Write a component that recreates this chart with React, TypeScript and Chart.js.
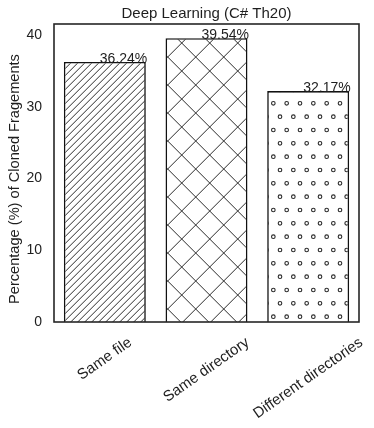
import React, { useEffect, useRef } from "react";
import { Chart, registerables } from "chart.js";

Chart.register(...registerables);

const categories = ["Same file", "Same directory", "Different directories"];
const values = [36.24, 39.54, 32.17];
const valueLabels = ["36.24%", "39.54%", "32.17%"];
const yTicks = [0, 10, 20, 30, 40];
const yMax = 41.52;
const chartTitle = "Deep Learning (C# Th20)";
const yAxisTitle = "Percentage (%) of Cloned Fragements";
const hatches = ["diag", "cross", "dots"];

const FONT = '"Liberation Sans", Arial, Helvetica, sans-serif';
const TEXT = "#1e1e1e";
const HATCH = "#2a2a2a";

function makePattern(kind: string): CanvasPattern | string {
  const c = document.createElement("canvas");
  const ctx = c.getContext("2d")!;
  if (kind === "diag" || kind === "cross") {
    const S = 28;
    c.width = S;
    c.height = S;
    ctx.fillStyle = "#ffffff";
    ctx.fillRect(0, 0, S, S);
    ctx.strokeStyle = HATCH;
    ctx.lineWidth = 1;
    if (kind === "diag") {
      for (let k = -3; k <= 12; k++) {
        const cc = 0.7 + 7 * k;
        ctx.beginPath();
        ctx.moveTo(cc + 10, -10);
        ctx.lineTo(cc - S - 10, S + 10);
        ctx.stroke();
      }
    } else {
      for (let k = -2; k <= 3; k++) {
        const cc = 0.7 + S * k;
        ctx.beginPath();
        ctx.moveTo(cc + 10, -10);
        ctx.lineTo(cc - S - 10, S + 10);
        ctx.stroke();
        const d = -1.3 + S * k;
        ctx.beginPath();
        ctx.moveTo(d - 10, -10);
        ctx.lineTo(d + S + 10, S + 10);
        ctx.stroke();
      }
    }
  } else {
    const S = 80;
    const step = 80 / 6;
    c.width = S;
    c.height = S;
    ctx.fillStyle = "#ffffff";
    ctx.fillRect(0, 0, S, S);
    ctx.strokeStyle = HATCH;
    ctx.lineWidth = 1.1;
    for (let j = -1; j <= 4; j++) {
      for (let i = -1; i <= 7; i++) {
        const pts = [
          [step / 2 + i * step, 23.333 + j * 2 * step],
          [i * step, 10 + j * 2 * step],
        ];
        for (const [x, y] of pts) {
          ctx.beginPath();
          ctx.arc(x, y, 1.8, 0, Math.PI * 2);
          ctx.stroke();
        }
      }
    }
  }
  const p = ctx.createPattern(c, "repeat");
  return p || "#ffffff";
}

const overlayPlugin = {
  id: "overlay",
  afterDatasetsDraw(chart: any) {
    const { ctx, chartArea } = chart;
    ctx.save();
    ctx.strokeStyle = "#262626";
    ctx.lineWidth = 1.6;
    ctx.strokeRect(
      chartArea.left,
      chartArea.top,
      chartArea.right - chartArea.left,
      chartArea.bottom - chartArea.top
    );
    ctx.restore();
  },
  afterDraw(chart: any) {
    const { ctx, chartArea } = chart;
    const xs = chart.scales.x;
    const ys = chart.scales.y;
    ctx.save();
    ctx.fillStyle = TEXT;
    // title centred on the plot area
    ctx.font = `15px ${FONT}`;
    ctx.textAlign = "center";
    ctx.textBaseline = "middle";
    ctx.fillText(chartTitle, (chartArea.left + chartArea.right) / 2, 14);
    // y axis title
    ctx.save();
    ctx.font = `14.6px ${FONT}`;
    ctx.translate(15, (chartArea.top + chartArea.bottom) / 2 + 6);
    ctx.rotate(-Math.PI / 2);
    ctx.textAlign = "center";
    ctx.textBaseline = "middle";
    ctx.fillText(yAxisTitle, 0, 0);
    ctx.restore();
    // value labels
    ctx.font = `14px ${FONT}`;
    const meta = chart.getDatasetMeta(0);
    meta.data.forEach((bar: any, i: number) => {
      ctx.textAlign = "left";
      ctx.textBaseline = "alphabetic";
      ctx.fillText(valueLabels[i], bar.x - 5, bar.y + 1);
    });
    // rotated category labels (centered on tick)
    ctx.font = `15px ${FONT}`;
    const ang = (35 * Math.PI) / 180;
    categories.forEach((label, i) => {
      const x = xs.getPixelForValue(i);
      const w = ctx.measureText(label).width;
      const h = 17;
      const H = w * Math.sin(ang) + h * Math.cos(ang);
      const cy = ys.bottom + 12 + H / 2;
      ctx.save();
      ctx.translate(x, cy);
      ctx.rotate(-ang);
      ctx.textAlign = "center";
      ctx.textBaseline = "middle";
      ctx.fillText(label, 0, 0);
      ctx.restore();
    });
    ctx.restore();
  },
};

export default function App() {
  const ref = useRef<HTMLCanvasElement | null>(null);
  useEffect(() => {
    if (!ref.current) return;
    const chart = new Chart(ref.current, {
      type: "bar",
      data: {
        labels: categories,
        datasets: [
          {
            data: values,
            backgroundColor: hatches.map((h) => makePattern(h)) as any,
            borderColor: "#111111",
            borderWidth: 1.6,
            barPercentage: 0.806,
            categoryPercentage: 1,
          },
        ],
      },
      options: {
        responsive: false,
        animation: false,
        layout: { padding: { left: 0, right: 15, top: 24, bottom: 0 } },
        plugins: {
          legend: { display: false },
          tooltip: { enabled: false },
          title: { display: false },
        },
        scales: {
          x: {
            type: "category",
            grid: { display: false, drawTicks: false },
            border: { display: false },
            ticks: { display: false },
            afterFit: (s: any) => {
              s.height = 106;
            },
          },
          y: {
            type: "linear",
            min: 0,
            max: yMax,
            grid: { display: false, drawTicks: false },
            border: { display: false },
            afterBuildTicks: (s: any) => {
              s.ticks = yTicks.map((v) => ({ value: v }));
            },
            ticks: {
              color: TEXT,
              padding: 12,
              font: { family: FONT, size: 14 },
            },
            title: { display: false },
            afterFit: (s: any) => {
              s.width = 54;
            },
          },
        },
      },
      plugins: [overlayPlugin],
    });
    return () => chart.destroy();
  }, []);
  return (
    <div style={{ position: "absolute", left: 0, top: 0, width: 374, height: 428, background: "#fff" }}>
      <canvas ref={ref} width={374} height={428} />
    </div>
  );
}
